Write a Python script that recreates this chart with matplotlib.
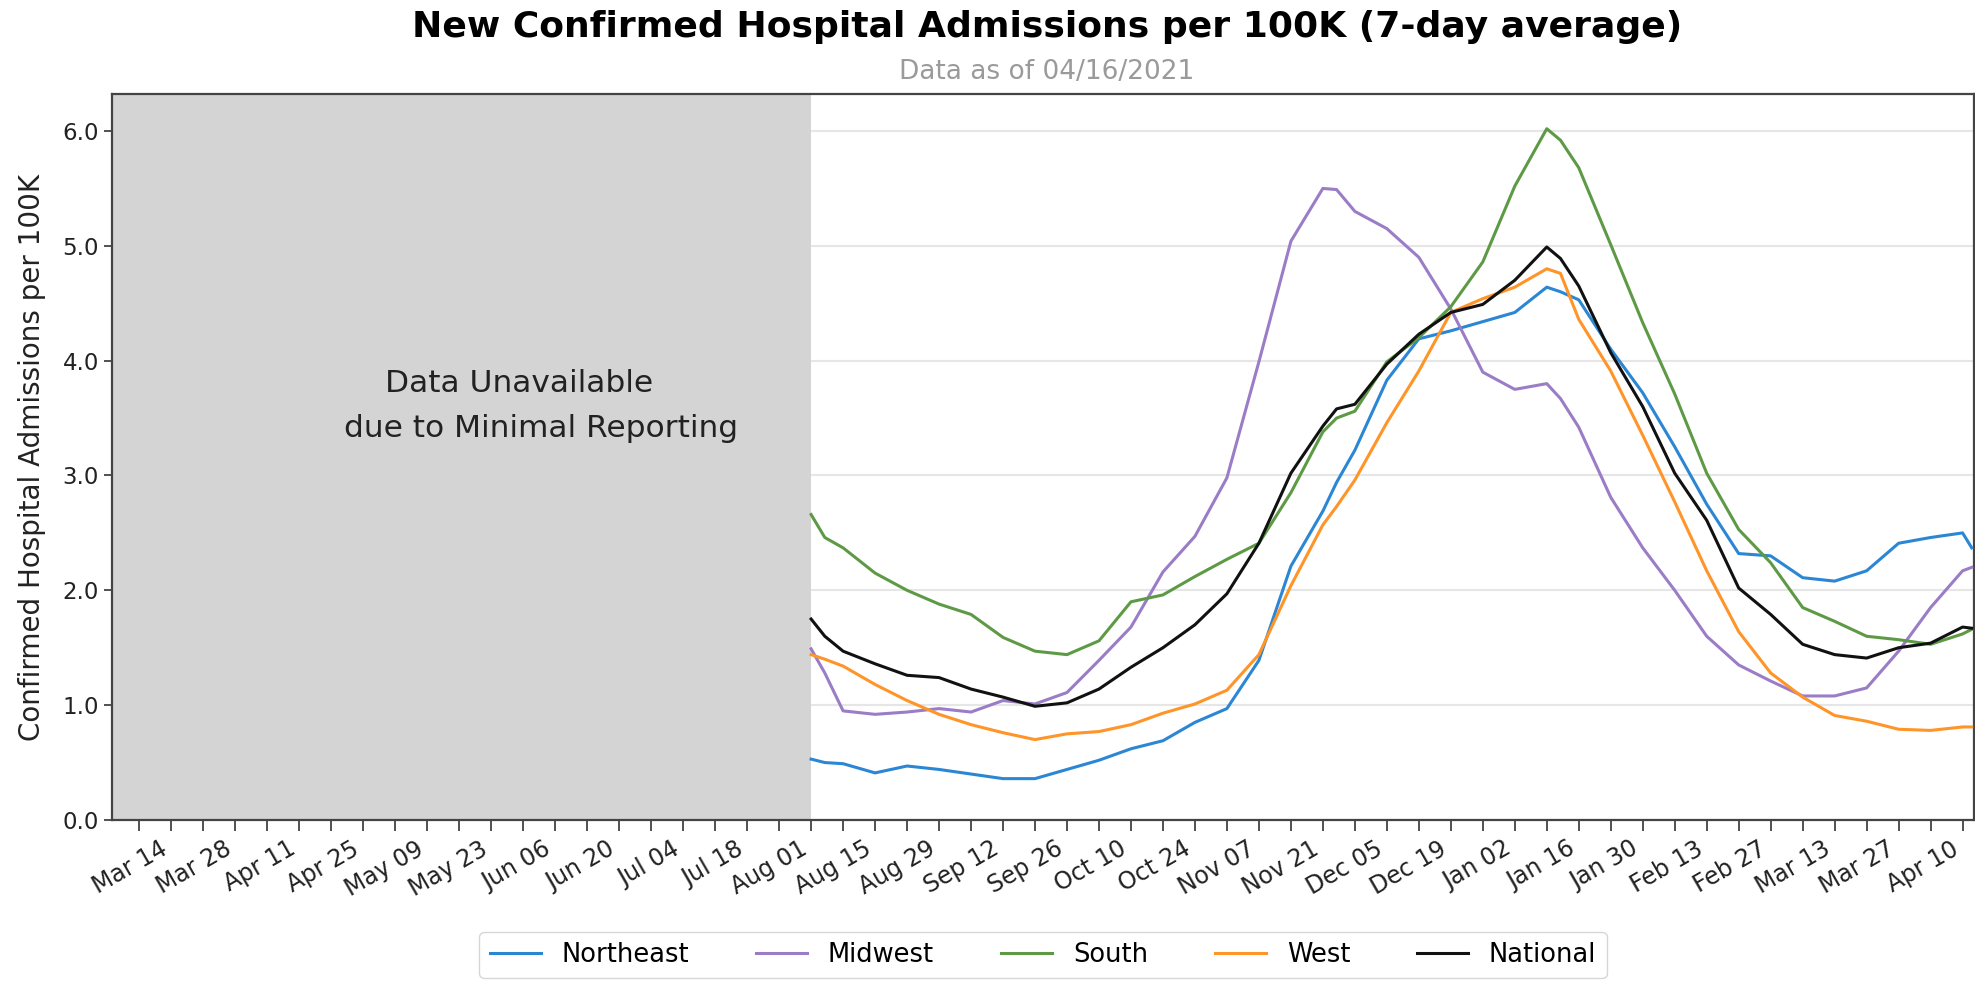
import matplotlib
matplotlib.use("Agg")
import matplotlib.pyplot as plt
import matplotlib.ticker as mticker
import pandas as pd

# readings taken roughly weekly, with a few extra days where the curves turn
dates = pd.to_datetime([
    "2020-08-01", "2020-08-04", "2020-08-08", "2020-08-15", "2020-08-22", "2020-08-29",
    "2020-09-05", "2020-09-12", "2020-09-19", "2020-09-26", "2020-10-03", "2020-10-10",
    "2020-10-17", "2020-10-24", "2020-10-31", "2020-11-07", "2020-11-14", "2020-11-21",
    "2020-11-24", "2020-11-28", "2020-12-05", "2020-12-12", "2020-12-19", "2020-12-26",
    "2021-01-02", "2021-01-09", "2021-01-12", "2021-01-16", "2021-01-23", "2021-01-30",
    "2021-02-06", "2021-02-13", "2021-02-20", "2021-02-27", "2021-03-06", "2021-03-13",
    "2021-03-20", "2021-03-27", "2021-04-03", "2021-04-10", "2021-04-12"])

northeast = [0.53, 0.50, 0.49, 0.41, 0.47, 0.44, 0.40, 0.36, 0.36, 0.44, 0.52, 0.62,
             0.69, 0.85, 0.97, 1.39, 2.21, 2.69, 2.94, 3.22, 3.83, 4.19, 4.26, 4.34,
             4.42, 4.64, 4.60, 4.53, 4.10, 3.72, 3.25, 2.75, 2.32, 2.30, 2.11, 2.08,
             2.17, 2.41, 2.46, 2.50, 2.37]
midwest = [1.49, 1.28, 0.95, 0.92, 0.94, 0.97, 0.94, 1.04, 1.01, 1.11, 1.39, 1.68,
           2.16, 2.47, 2.98, 3.99, 5.04, 5.50, 5.49, 5.30, 5.15, 4.90, 4.45, 3.90,
           3.75, 3.80, 3.67, 3.42, 2.81, 2.37, 2.00, 1.60, 1.35, 1.21, 1.08, 1.08,
           1.15, 1.47, 1.85, 2.17, 2.20]
south = [2.66, 2.46, 2.37, 2.15, 2.00, 1.88, 1.79, 1.59, 1.47, 1.44, 1.56, 1.90,
         1.96, 2.12, 2.27, 2.41, 2.85, 3.38, 3.50, 3.56, 3.99, 4.20, 4.47, 4.86,
         5.52, 6.02, 5.92, 5.68, 5.01, 4.33, 3.71, 3.02, 2.53, 2.24, 1.85, 1.73,
         1.60, 1.57, 1.53, 1.62, 1.66]
west = [1.44, 1.40, 1.34, 1.18, 1.04, 0.92, 0.83, 0.76, 0.70, 0.75, 0.77, 0.83,
        0.93, 1.01, 1.13, 1.44, 2.04, 2.57, 2.73, 2.96, 3.46, 3.91, 4.42, 4.54,
        4.64, 4.80, 4.76, 4.36, 3.91, 3.35, 2.77, 2.17, 1.64, 1.28, 1.07, 0.91,
        0.86, 0.79, 0.78, 0.81, 0.81]
national = [1.75, 1.60, 1.47, 1.36, 1.26, 1.24, 1.14, 1.07, 0.99, 1.02, 1.14, 1.33,
            1.50, 1.70, 1.97, 2.41, 3.02, 3.43, 3.58, 3.62, 3.97, 4.23, 4.42, 4.49,
            4.70, 4.99, 4.89, 4.65, 4.07, 3.60, 3.02, 2.61, 2.02, 1.79, 1.53, 1.44,
            1.41, 1.50, 1.54, 1.68, 1.67]

regions = ["Northeast", "Midwest", "South", "West", "National"]
series = [northeast, midwest, south, west, national]
colors = ["#2b86d4", "#9b7cc6", "#5e9a46", "#ff9428", "#111111"]

x_start = pd.Timestamp("2020-03-01")
x_end = pd.Timestamp("2021-04-12 12:00")
reporting_start = pd.Timestamp("2020-08-01")

fig = plt.figure(figsize=(19.75, 9.82), dpi=100)
ax = fig.add_axes([0.0567, 0.165, 0.9428, 0.739])

ax.yaxis.grid(True, color="#e6e6e6", lw=1.5)
ax.set_axisbelow(True)
ax.axvspan(x_start, reporting_start, color="#d4d4d4", lw=0, zorder=1)

for name, vals, c in zip(regions, series, colors):
    ax.plot(dates, vals, color=c, lw=2.2, label=name, zorder=3)

ax.set_xlim(x_start, x_end)
ax.set_ylim(0, 6.32)
ax.set_yticks([0, 1, 2, 3, 4, 5, 6])
ax.yaxis.set_major_formatter(mticker.FormatStrFormatter("%.1f"))

# ticks every week, labels every other week
all_ticks = pd.date_range("2020-03-07", "2021-04-10", freq="7D")
ax.set_xticks(all_ticks)
ax.set_xticklabels([d.strftime("%b %d") if i % 2 == 1 else "" for i, d in enumerate(all_ticks)],
                   rotation=30, ha="right", fontsize=17, color="#222222")
ax.tick_params(axis="x", length=8, width=1.2, color="#333333", pad=4)
ax.tick_params(axis="y", labelsize=16.5, length=6, width=1.2, color="#333333",
               labelcolor="#222222")

for s in ["top", "left", "bottom", "right"]:
    ax.spines[s].set_color("#444444")
    ax.spines[s].set_linewidth(1.6)

ax.set_ylabel("Confirmed Hospital Admissions per 100K", fontsize=20, color="#222222",
              labelpad=12)

ax.text(pd.Timestamp("2020-05-29"), 3.8, "Data Unavailable", fontsize=22.5,
        ha="center", va="center", color="#222222")
ax.text(pd.Timestamp("2020-06-03"), 3.41, "due to Minimal Reporting", fontsize=22.5,
        ha="center", va="center", color="#222222")

fig.text(0.53, 0.972, "New Confirmed Hospital Admissions per 100K (7-day average)",
         fontsize=26, fontweight="bold", ha="center", va="center")
fig.text(0.53, 0.927, "Data as of 04/16/2021", fontsize=19, color="#9a9a9a",
         ha="center", va="center")

ax.legend(loc="center", bbox_to_anchor=(0.5, -0.186), ncol=5, fontsize=18.5,
          frameon=True, edgecolor="#cccccc", handlelength=2.0, columnspacing=2.6)

fig.savefig("out.png", dpi=100)
